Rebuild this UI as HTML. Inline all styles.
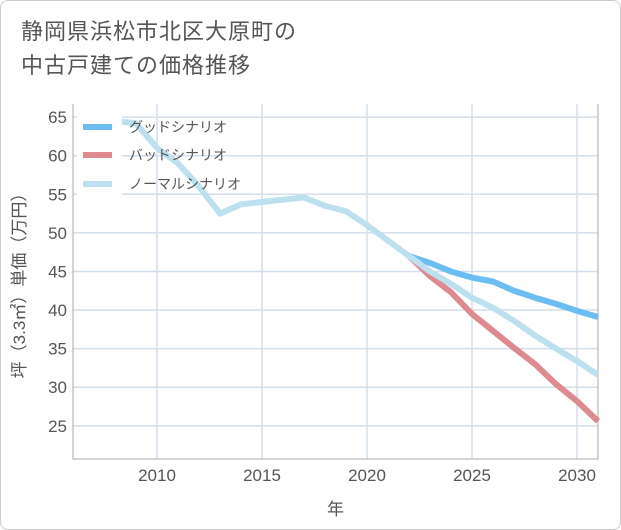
<!DOCTYPE html>
<html><head><meta charset="utf-8"><style>
body{margin:0;background:#fff;}
#wrap{position:relative;width:619px;height:528px;border:1px solid #ccc;border-radius:8px;overflow:hidden;font-family:"Liberation Sans","Noto Sans CJK JP",sans-serif;}
#title{position:absolute;left:20px;top:14px;font-size:22px;line-height:34px;color:#555;letter-spacing:1px;}
svg{position:absolute;left:0;top:0;}
</style></head><body>
<div id="wrap">
<div id="title">静岡県浜松市北区大原町の<br>中古戸建ての価格推移</div>
<svg id="chart" width="621" height="530"></svg>
</div>
<script>
const years=[2008,2009,2010,2011,2012,2013,2014,2015,2016,2017,2018,2019,2020,2021,2022,2023,2024,2025,2026,2027,2028,2029,2030,2031];
const normal=[64.5,64.2,61,59,56,52.5,53.7,54,54.3,54.6,53.5,52.8,51,49,47,45,43.4,41.6,40.3,38.6,36.7,35,33.4,31.6];
const goodYears=[2022,2023,2024,2025,2026,2027,2028,2029,2030,2031];
const good=[47,46.1,45,44.2,43.7,42.5,41.6,40.8,39.9,39.1];
const bad=[47,44.4,42.3,39.5,37.3,35.1,33,30.4,28.2,25.6];
const yTicks=[25,30,35,40,45,50,55,60,65];
const xTicks=[2010,2015,2020,2025,2030];
const L=72,R=597,T=103,B=458,x0=2006,x1=2031,y0=20.7,y1=66.7;
const X=v=>L+(v-x0)/(x1-x0)*(R-L);
const Y=v=>B-(v-y0)/(y1-y0)*(B-T);
const svg=document.getElementById('chart');
const NS='http://www.w3.org/2000/svg';
function mk(t,a){const e=document.createElementNS(NS,t);for(const k in a)e.setAttribute(k,a[k]);svg.appendChild(e);return e;}
yTicks.forEach(v=>{
 const g=mk('line',{x1:L,x2:R,y1:Y(v),y2:Y(v),stroke:'#d3dfea','stroke-width':1.5});
 
 
 const t=mk('text',{x:L-6,y:Y(v)+6,'text-anchor':'end','font-size':17,fill:'#555'});
 t.textContent=v;
 
 
});
xTicks.forEach(v=>{
 const g=mk('line',{x1:X(v),x2:X(v),y1:T,y2:B,stroke:'#d3dfea','stroke-width':1.5});
 
 
 const t=mk('text',{x:X(v),y:B+22,'text-anchor':'middle','font-size':17,fill:'#555'});
 t.textContent=v;
 
 
});
const ax=mk('path',{d:`M${L},${T}V${B}H${R}V${T}`,fill:'none',stroke:'#aaa','stroke-width':1});


function line(xs,ys,color,name){
 const p=mk('polyline',{points:xs.map((x,i)=>X(x)+','+Y(ys[i])).join(' '),fill:'none',stroke:color,'stroke-width':6,'stroke-linejoin':'round'});
 
 
}
line(goodYears,good,'#6bbdf2','good-scenario-line');
line(goodYears,bad,'#de8a91','bad-scenario-line');
line(years,normal,'#bde0ee','normal-scenario-line');
const leg=[['グッドシナリオ','#6bbdf2',126],['バッドシナリオ','#de8a91',154],['ノーマルシナリオ','#bde0ee',183]];
const lb=mk('rect',{x:76,y:108,width:45,height:86,fill:'#fff'});


leg.forEach(l=>{
 const r=mk('line',{x1:82,x2:111,y1:l[2],y2:l[2],stroke:l[1],'stroke-width':6});
 
 
 const t=mk('text',{x:128,y:l[2]+5,'font-size':14,fill:'#555'});
 t.textContent=l[0];
 
 
});
const xt=mk('text',{x:(L+R)/2,y:514,'text-anchor':'middle','font-size':17,fill:'#555'});
xt.textContent='年';


const yt=mk('text',{x:0,y:0,'text-anchor':'middle','font-size':17,fill:'#555',transform:`translate(24,${(T+B)/2}) rotate(-90)`});
yt.textContent='坪（3.3㎡）単価（万円）';


</script>
</body></html>
